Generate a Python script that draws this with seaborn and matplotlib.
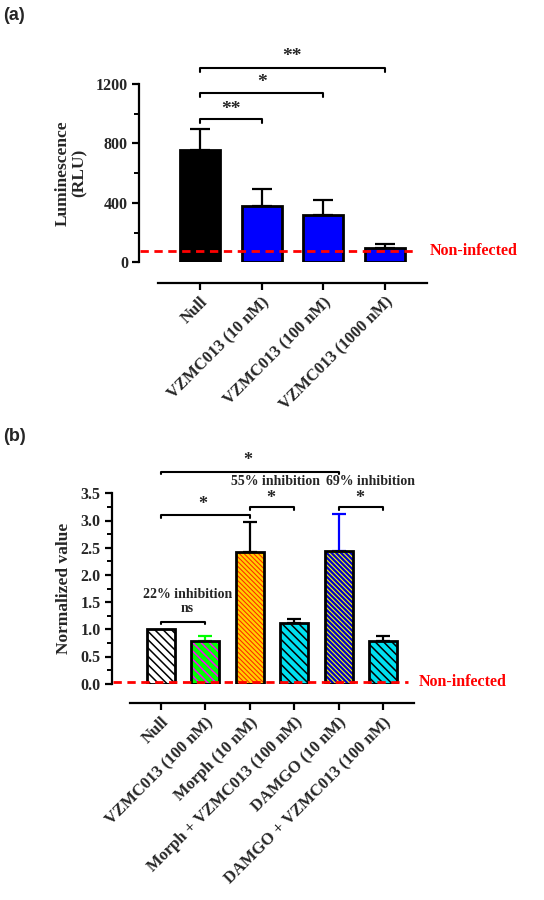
import numpy as np
import pandas as pd
import matplotlib
matplotlib.use("Agg")
import matplotlib.pyplot as plt
from matplotlib.patches import Rectangle
import seaborn as sns

sns.set_theme(style="white")
plt.rcParams['font.family'] = ['Liberation Serif', 'DejaVu Serif']
plt.rcParams['font.weight'] = 'bold'
plt.rcParams['hatch.linewidth'] = 1.0

# ---------------- data (a) ----------------
cats_a = ["Null", "VZMC013 (10 nM)", "VZMC013 (100 nM)", "VZMC013 (1000 nM)"]
vals_a = [758, 381, 318, 94]
err_top_a = [899, 493, 419, 121]
colors_a = ["#000000", "#0000FF", "#0000FF", "#0000FF"]
noninf_a = 75
yticks_a = [0, 400, 800, 1200]
brackets_a = [(0, 1, 962, "**", 1030), (0, 2, 1137, "*", 1208), (0, 3, 1305, "**", 1385)]

# ---------------- data (b) ----------------
cats_b = ["Null", "VZMC013 (100 nM)", "Morph (10 nM)", "Morph + VZMC013 (100 nM)",
          "DAMGO (10 nM)", "DAMGO + VZMC013 (100 nM)"]
vals_b = [1.0, 0.78, 2.42, 1.11, 2.44, 0.78]
err_top_b = [1.0, 0.87, 2.97, 1.19, 3.12, 0.88]
face_b = ["#FFFFFF", "#00FF00", "#FFD000", "#00E0F0", "#0000CC", "#00E0F0"]
hatchcol_b = ["#000000", "#FF00FF", "#FF2800", "#000000", "#FFFF00", "#000000"]
hatch_b = ["\\\\\\\\", "\\\\\\\\", "\\\\\\\\\\\\\\", "\\\\\\\\", "\\\\\\\\\\\\\\", "\\\\\\\\"]
hatch_lw_b = [1.1, 1.1, 0.75, 1.1, 0.8, 1.1]
errcol_b = ["#000000", "#00FF00", "#000000", "#000000", "#0000FF", "#000000"]
noninf_b = 0.03
yticks_b = [0.0, 0.5, 1.0, 1.5, 2.0, 2.5, 3.0, 3.5]
brackets_b = [(0, 2, 3.10, "*", 0.95, 3.29), (2, 3, 3.24, "*", 2.47, 3.40),
              (4, 5, 3.24, "*", 4.48, 3.40), (0, 4, 3.90, "*", 1.96, 4.10),
              (0, 1, 1.14, "ns", 0.6, 1.39)]
notes_b = [("22% inhibition", 0.6, 1.64), ("55% inhibition", 2.59, 3.72),
           ("69% inhibition", 4.71, 3.72)]

W, H = 544, 900
fig = plt.figure(figsize=(W / 100, H / 100), dpi=100)


def px_axes(l, t, r, b):
    return fig.add_axes([l / W, 1 - b / H, (r - l) / W, (b - t) / H])


def style_axes(ax, ylim, yticks, minor, xb, offset_px, fmt):
    ax.set_ylim(*ylim)
    ax.set_yticks(yticks)
    ax.set_yticklabels([fmt(v) for v in yticks], fontsize=11.5, fontweight='bold')
    ax.set_yticks(minor, minor=True)
    for s in ['top', 'right']:
        ax.spines[s].set_visible(False)
    ax.spines['left'].set_bounds(ylim[0], ylim[1])
    ax.spines['left'].set_linewidth(1.6)
    ax.spines['left'].set_color('black')
    ax.spines['bottom'].set_position(('outward', offset_px * 0.72))
    ax.spines['bottom'].set_bounds(*xb)
    ax.spines['bottom'].set_linewidth(1.6)
    ax.spines['bottom'].set_color('black')
    ax.tick_params(axis='y', which='major', direction='out', length=5, width=1.6,
                   left=True, color='black', pad=3)
    ax.tick_params(axis='y', which='minor', direction='out', length=3.5, width=1.4,
                   left=True, color='black')
    ax.tick_params(axis='x', which='major', direction='out', length=5, width=1.6,
                   bottom=True, color='black', pad=3)
    ax.grid(False)


def bracket(ax, x0, x1, y, tick):
    ax.plot([x0, x0, x1, x1], [y - tick, y, y, y - tick], color='black', lw=1.5,
            clip_on=False, zorder=5)


# ================= panel (a) =================
ax = px_axes(139, 84, 428, 262.3)
df_a = pd.DataFrame({"cat": cats_a, "val": vals_a})
sns.barplot(data=df_a, x="cat", y="val", hue="cat", palette=colors_a, legend=False,
            order=cats_a, hue_order=cats_a, width=0.65, errorbar=None, saturation=1,
            edgecolor='black', linewidth=2, ax=ax)
for i in range(len(cats_a)):
    ax.errorbar(i, vals_a[i], yerr=[[0], [err_top_a[i] - vals_a[i]]], fmt='none',
                ecolor='black', elinewidth=1.6, capsize=7, capthick=1.6, zorder=1)
ax.set_xlim(-0.99, 3.7)
style_axes(ax, (0, 1200), yticks_a, [200, 600, 1000], (-0.68, 3.69), 20.7,
           lambda v: f"{v:d}")
ax.set_xticks(range(len(cats_a)))
ax.set_xticklabels(cats_a, rotation=45, ha='right', rotation_mode='anchor',
                   fontsize=12, fontweight='bold')
ax.set_xlabel("")
ax.set_ylabel("Luminescence\n(RLU)", fontsize=12.5, fontweight='bold', labelpad=6,
              linespacing=1.1)
ax.hlines(noninf_a, -0.97, 3.45, colors='red', linestyles=(0, (3, 2)), lw=2, zorder=6)
ax.text(3.73, noninf_a, "Non-infected", color='red', fontsize=11.5, fontweight='bold',
        va='center', ha='left', clip_on=False)
for x0, x1, y, s, ys in brackets_a:
    bracket(ax, x0, x1, y, 22)
    ax.text((x0 + x1) / 2, ys, s, ha='center', va='center', fontsize=14,
            fontweight='bold', clip_on=False)

# ================= panel (b) =================
bx = px_axes(111.7, 493.3, 414, 683.7)
df_b = pd.DataFrame({"cat": cats_b, "val": vals_b})
sns.barplot(data=df_b, x="cat", y="val", hue="cat", palette=face_b, legend=False,
            order=cats_b, hue_order=cats_b, width=0.63, errorbar=None, saturation=1,
            ax=bx)
for i, p in enumerate(bx.patches[:len(cats_b)]):
    p.set_facecolor(face_b[i])
    p.set_hatch(hatch_b[i])
    p.set_edgecolor(hatchcol_b[i])
    p.set_linewidth(0)
    if hasattr(p, "set_hatch_linewidth"):
        p.set_hatch_linewidth(hatch_lw_b[i])
    bx.add_patch(Rectangle(p.get_xy(), p.get_width(), p.get_height(), fill=False,
                           edgecolor='black', linewidth=2, zorder=p.get_zorder() + 0.1))
for i in range(len(cats_b)):
    if err_top_b[i] > vals_b[i]:
        bx.errorbar(i, vals_b[i], yerr=[[0], [err_top_b[i] - vals_b[i]]], fmt='none',
                    ecolor=errcol_b[i], elinewidth=1.6, capsize=5, capthick=1.6,
                    zorder=1)
bx.set_xlim(-1.11, 5.70)
style_axes(bx, (0, 3.5), yticks_b, [0.25, 0.75, 1.25, 1.75, 2.25, 2.75, 3.25],
           (-0.70, 5.70), 19.6, lambda v: f"{v:.1f}")
bx.set_xticks(range(len(cats_b)))
bx.set_xticklabels(cats_b, rotation=45, ha='right', rotation_mode='anchor',
                   fontsize=12, fontweight='bold')
bx.set_xlabel("")
bx.set_ylabel("Normalized value", fontsize=12.5, fontweight='bold', labelpad=6)
bx.hlines(noninf_b, -1.08, 5.57, colors='red', linestyles=(0, (3, 2)), lw=2, zorder=6)
bx.text(5.80, noninf_b, "Non-infected", color='red', fontsize=11.5, fontweight='bold',
        va='center', ha='left', clip_on=False)
for x0, x1, y, s, xs, ys in brackets_b:
    bracket(bx, x0, x1, y, 0.05)
    bx.text(xs, ys, s, ha='center', va='center', fontsize=10 if s == "ns" else 13,
            fontweight='bold', clip_on=False)
for s, xs, ys in notes_b:
    bx.text(xs, ys, s, ha='center', va='center', fontsize=10, fontweight='bold',
            clip_on=False)

# panel labels
fig.text(3 / W, 1 - 15 / H, "(a)", fontsize=13, fontweight='bold',
         family=['Liberation Sans', 'DejaVu Sans'], va='center', ha='left')
fig.text(3 / W, 1 - 437 / H, "(b)", fontsize=13, fontweight='bold',
         family=['Liberation Sans', 'DejaVu Sans'], va='center', ha='left')

fig.savefig("out.png", dpi=100, facecolor='white')
